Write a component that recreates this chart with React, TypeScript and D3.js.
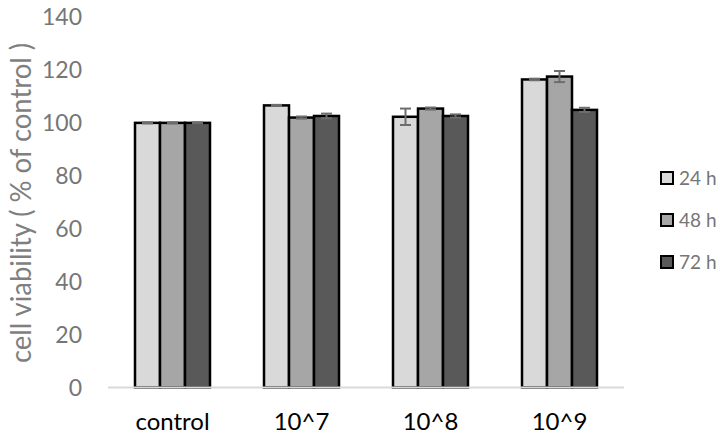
import React, { useEffect, useRef } from "react";
import * as d3 from "d3";

const categories = ["control", "10^7", "10^8", "10^9"];
const series = ["24 h", "48 h", "72 h"];
const values24 = [100, 106.6, 102.3, 116.4];
const values48 = [100, 102.0, 105.4, 117.5];
const values72 = [100, 102.6, 102.6, 104.9];
const errors24 = [0.2, 0.2, 3.1, 0.3];
const errors48 = [0.2, 0.4, 0.4, 2.1];
const errors72 = [0.2, 0.9, 0.6, 0.8];
const yTicks = [0, 20, 40, 60, 80, 100, 120, 140];
const colors = ["#d9d9d9", "#a6a6a6", "#595959"];

const App = () => {
  const ref = useRef<SVGSVGElement | null>(null);

  useEffect(() => {
    if (!ref.current) return;
    const width = 723, height = 440;
    const font = "Lato, 'Open Sans', sans-serif";
    const svg = d3.select(ref.current);
    svg.selectAll("*").remove();

    const x = d3.scaleBand().domain(categories).range([108, 624]).padding(0);
    const y = d3.scaleLinear().domain([0, 140]).range([387.5, 17]);
    const groupW = 75;
    const xs = d3.scaleBand().domain(series).range([0, groupW]).padding(0);

    const vals = [values24, values48, values72];
    const errs = [errors24, errors48, errors72];

    // y tick labels
    svg.selectAll(".ytick")
      .data(yTicks)
      .enter().append("text")
      .attr("x", 82)
      .attr("y", d => y(d))
      .attr("dy", "0.35em")
      .attr("text-anchor", "end")
      .attr("font-family", font)
      .attr("font-size", 23)
      .attr("fill", "#767676")
      .text(d => d);

    // y axis title
    svg.append("text")
      .attr("transform", `translate(31,${(43 + 363) / 2}) rotate(-90)`)
      .attr("text-anchor", "middle")
      .attr("font-family", font)
      .attr("font-size", 29)
      .attr("textLength", 320)
      .attr("lengthAdjust", "spacingAndGlyphs")
      .attr("fill", "#7f7f7f")
      .text("cell viability ( % of control )");

    // bars
    series.forEach((s, si) => {
      svg.selectAll(`.bar${si}`)
        .data(categories)
        .enter().append("rect")
        .attr("x", c => (x(c) as number) + (x.bandwidth() - groupW) / 2 + (xs(s) as number))
        .attr("y", (c, i) => y(vals[si][i]))
        .attr("width", xs.bandwidth())
        .attr("height", (c, i) => y(0) - y(vals[si][i]))
        .attr("fill", colors[si])
        .attr("stroke", "#000")
        .attr("stroke-width", 2.5);
    });

    // error bars
    series.forEach((s, si) => {
      categories.forEach((c, i) => {
        const cx = (x(c) as number) + (x.bandwidth() - groupW) / 2 + (xs(s) as number) + xs.bandwidth() / 2;
        const v = vals[si][i], e = errs[si][i];
        const g = svg.append("g").attr("stroke", "#6d6d6d").attr("stroke-width", 2);
        g.append("line").attr("x1", cx).attr("x2", cx).attr("y1", y(v + e)).attr("y2", y(v - e));
        g.append("line").attr("x1", cx - 5.5).attr("x2", cx + 5.5).attr("y1", y(v + e)).attr("y2", y(v + e));
        g.append("line").attr("x1", cx - 5.5).attr("x2", cx + 5.5).attr("y1", y(v - e)).attr("y2", y(v - e));
      });
    });

    // x axis line
    svg.append("line")
      .attr("x1", 108).attr("x2", 624)
      .attr("y1", y(0)).attr("y2", y(0))
      .attr("stroke", "#d9d9d9").attr("stroke-width", 2);

    // x labels
    svg.selectAll(".xlabel")
      .data(categories)
      .enter().append("text")
      .attr("x", c => (x(c) as number) + x.bandwidth() / 2)
      .attr("y", 422)
      .attr("dy", "0.35em")
      .attr("text-anchor", "middle")
      .attr("font-family", font)
      .attr("font-size", 24)
      .attr("fill", "#000")
      .text(c => c);

    // legend
    const legendY = [178, 220, 262];
    series.forEach((s, si) => {
      svg.append("rect")
        .attr("x", 661).attr("y", legendY[si] - 6)
        .attr("width", 12).attr("height", 12)
        .attr("fill", colors[si])
        .attr("stroke", "#000").attr("stroke-width", 2);
      svg.append("text")
        .attr("x", 679).attr("y", legendY[si])
        .attr("dy", "0.35em")
        .attr("font-family", font)
        .attr("font-size", 19)
        .attr("fill", "#767676")
        .text(s);
    });

    svg.attr("width", width).attr("height", height);
  }, []);

  return (
    <svg ref={ref} width={723} height={440}
      style={{ position: "absolute", left: 0, top: 0, background: "#fff" }} />
  );
};

export default App;
